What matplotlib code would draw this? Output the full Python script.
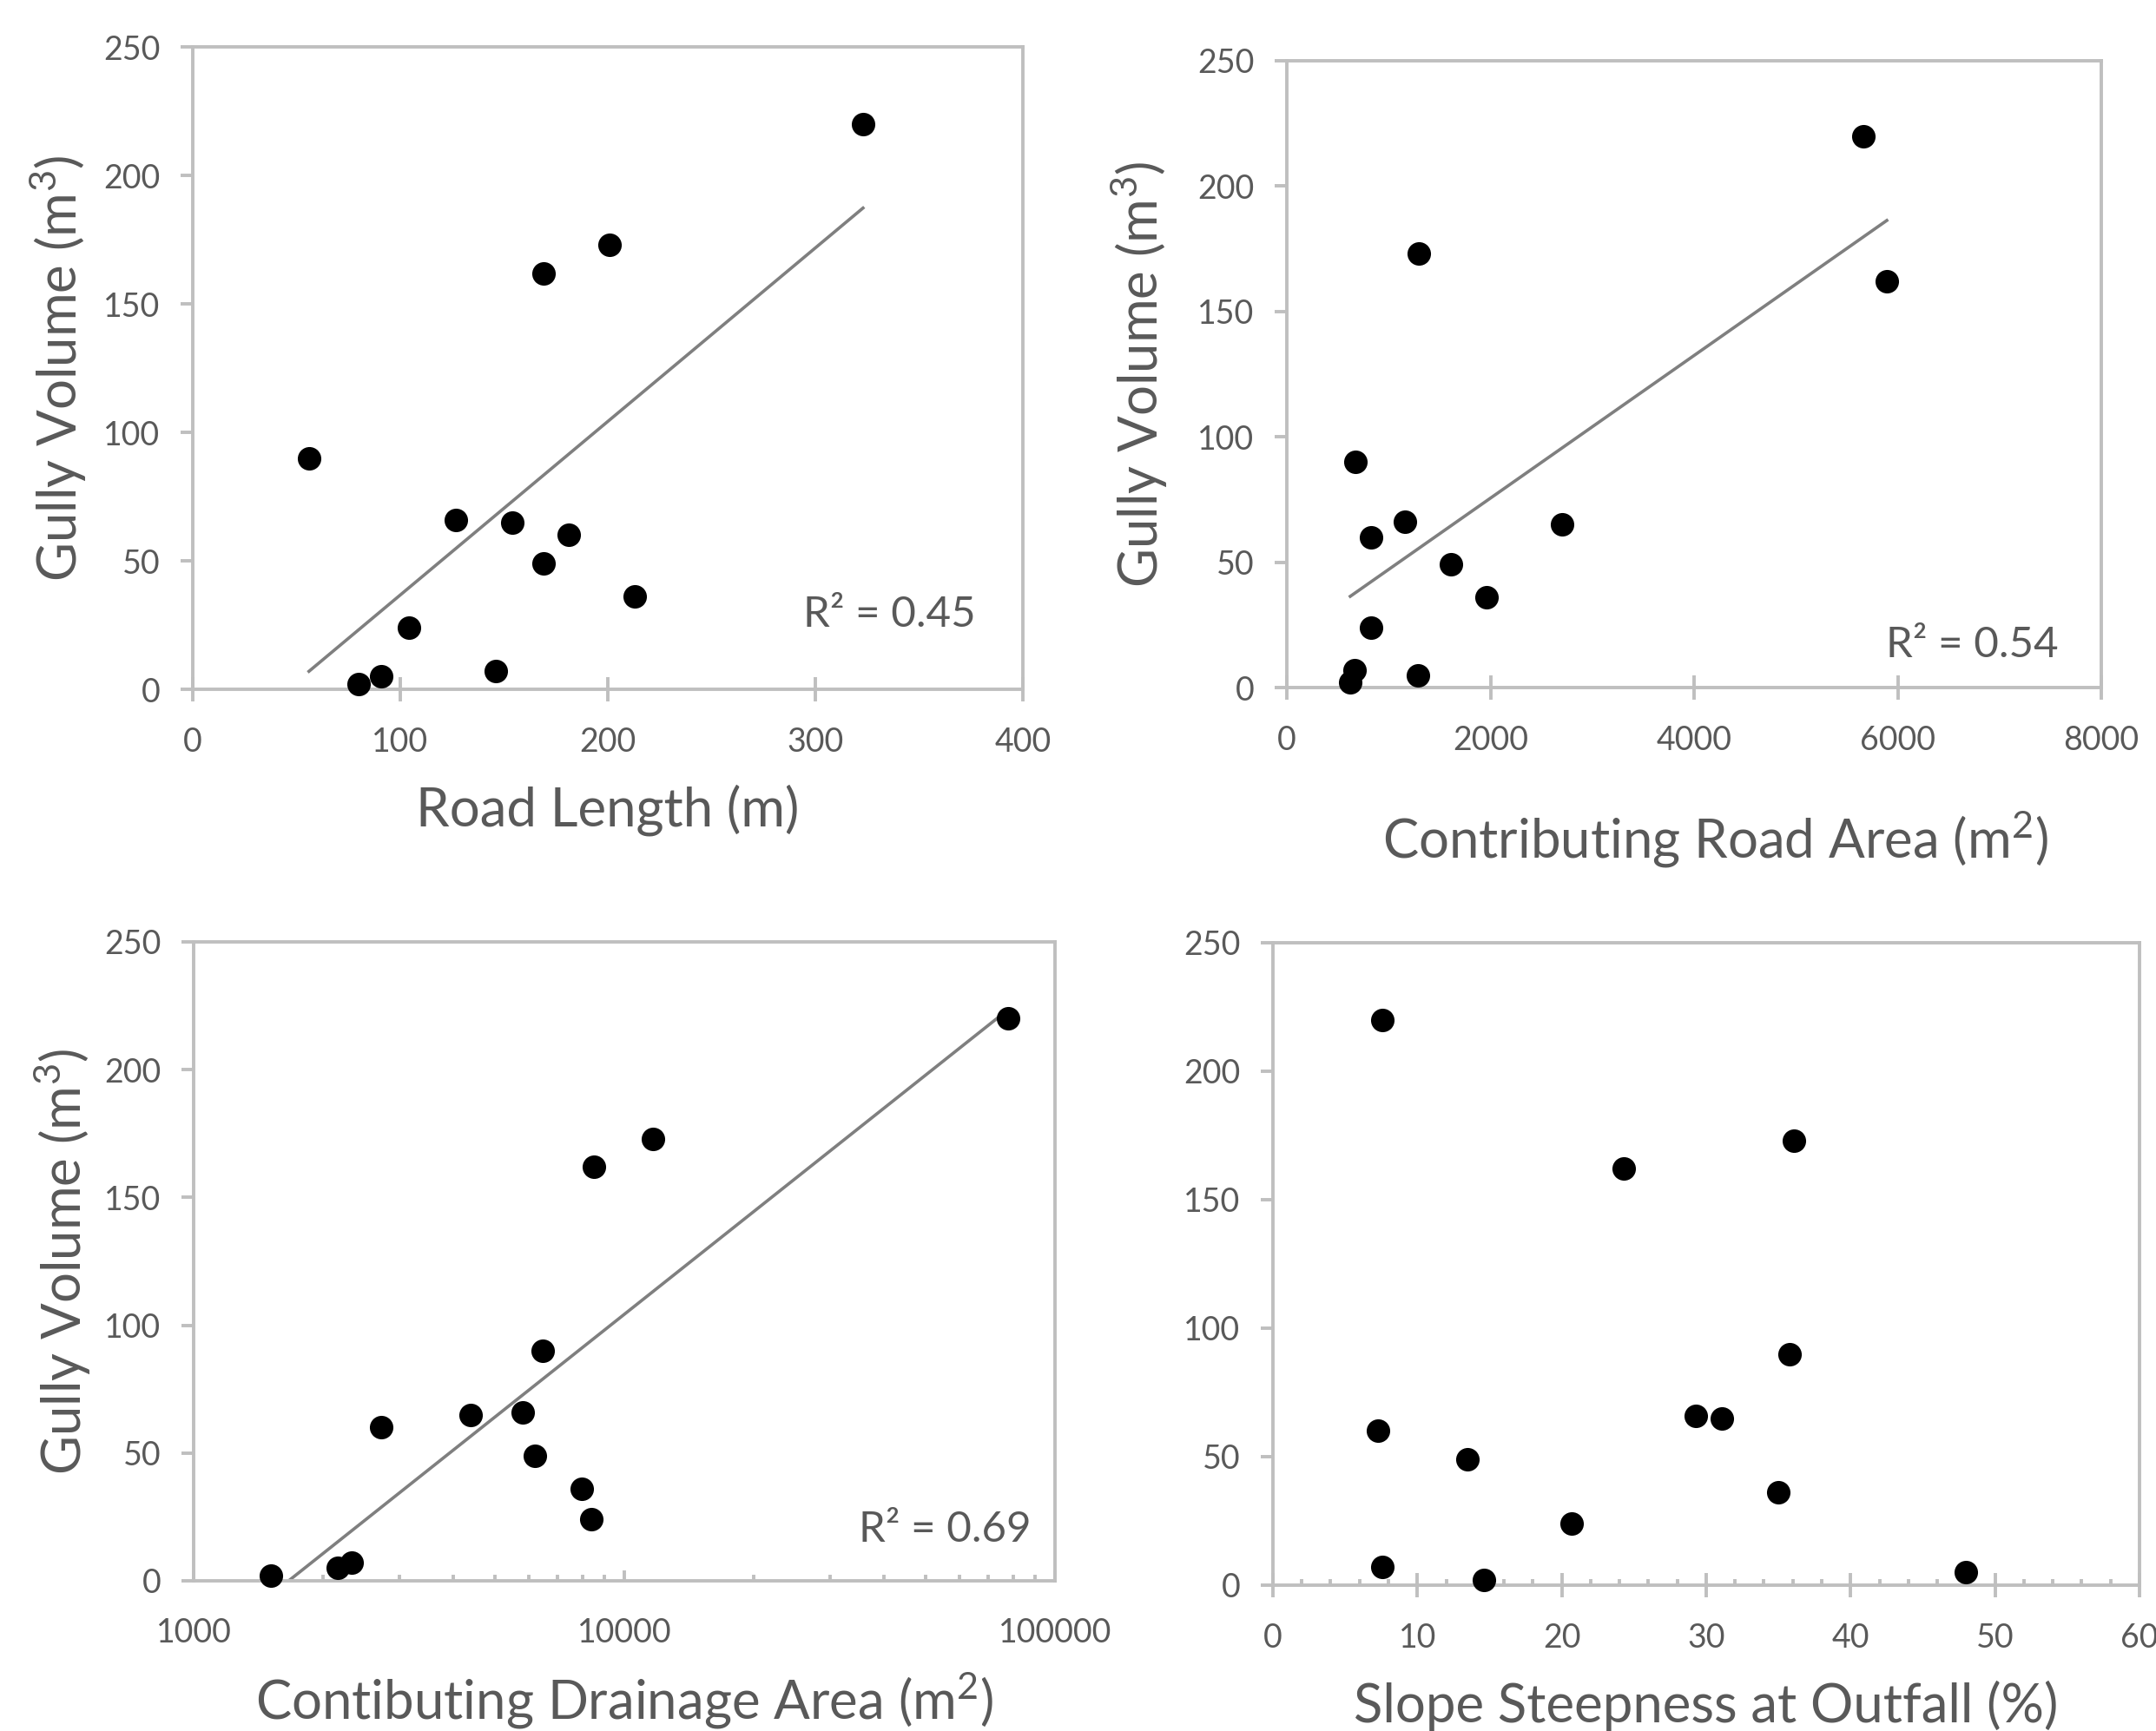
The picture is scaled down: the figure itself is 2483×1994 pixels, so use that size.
import numpy as np
import matplotlib
matplotlib.use("Agg")
import matplotlib.pyplot as plt
from matplotlib.ticker import MultipleLocator, FixedLocator, NullFormatter, LogLocator

# ---- data ----
gully_volume = [220, 173, 162, 90, 66, 65, 60, 49, 36, 24, 7, 5, 2]
road_length = [323, 201, 169, 56, 127, 154, 181, 169, 213, 104, 146, 90.6, 80]
road_area = [5660, 1297, 5892, 676, 1162, 2703, 824, 1608, 1959, 824, 662, 1284, 622]
drainage_area = [77850, 11670, 8510, 6480, 5800, 4390, 2720, 6200, 7960, 8380, 2330, 2165, 1510]
slope_steep = [7.6, 36.1, 24.3, 35.8, 29.3, 31.1, 7.3, 13.5, 35.0, 20.7, 7.6, 48.0, 14.6]

r2_labels = ["R\u00b2 = 0.45", "R\u00b2 = 0.54", "R\u00b2 = 0.69"]

plt.rcParams['font.family'] = ['Lato', 'DejaVu Sans']
plt.rcParams['mathtext.fontset'] = 'custom'
plt.rcParams['mathtext.rm'] = 'Lato'

TXT = '#595959'
AX = '#BFBFBF'
TREND = '#7F7F7F'
LW = 2.8
TICK_FS = 27
LAB_FS = 44.5
R2_FS = 35.5
MS = 380
TLW = 2.6

fig = plt.figure(figsize=(24.83, 19.94), dpi=100)

ylab = 'Gully Volume (m$^{\\mathregular{3}}$)'


def style(ax, xdir='inout', xlen=19.5, xpad=21):
    for s in ax.spines.values():
        s.set_color(AX)
        s.set_linewidth(LW)
    ax.tick_params(axis='y', direction='out', length=10, width=LW, color=AX,
                   labelsize=TICK_FS, labelcolor=TXT, pad=17)
    ax.tick_params(axis='x', which='major', direction=xdir, length=xlen, width=LW,
                   color=AX, labelsize=TICK_FS, labelcolor=TXT, pad=xpad)
    ax.set_ylim(0, 250)
    ax.yaxis.set_major_locator(MultipleLocator(50))
    ax.set_facecolor('white')


def scatter(ax, x, y):
    ax.scatter(x, y, s=MS, color='black', zorder=3, clip_on=False, linewidths=0)


# Panel 1
ax1 = fig.add_axes([0.0894, 0.6018, 0.385, 0.3711])
style(ax1)
ax1.set_xlim(0, 400)
ax1.xaxis.set_major_locator(MultipleLocator(100))
scatter(ax1, road_length, gully_volume)
m, b = np.polyfit(road_length, gully_volume, 1)
xs = np.array([min(road_length), max(road_length)])
ax1.plot(xs, m * xs + b, color=TREND, lw=TLW, zorder=2)
ax1.text(0.839, 0.116, r2_labels[0], transform=ax1.transAxes, ha='center', va='center',
         fontsize=R2_FS, color=TXT)
ax1.text(0.5, -0.188, 'Road Length (m)', transform=ax1.transAxes, ha='center', va='center',
         fontsize=LAB_FS, color=TXT)
ax1.text(-0.163, 0.5, ylab, transform=ax1.transAxes, ha='center', va='center',
         rotation=90, fontsize=LAB_FS, color=TXT)

# Panel 2
ax2 = fig.add_axes([0.5969, 0.6028, 0.3778, 0.3621])
style(ax2)
ax2.set_xlim(0, 8000)
ax2.xaxis.set_major_locator(MultipleLocator(2000))
scatter(ax2, road_area, gully_volume)
m, b = np.polyfit(road_area, gully_volume, 1)
xs = np.array([min(road_area), max(road_area)])
ax2.plot(xs, m * xs + b, color=TREND, lw=TLW, zorder=2)
ax2.text(0.841, 0.068, r2_labels[1], transform=ax2.transAxes, ha='center', va='center',
         fontsize=R2_FS, color=TXT)
ax2.text(0.5256, -0.242, 'Contributing Road Area (m$^{\\mathregular{2}}$)', transform=ax2.transAxes,
         ha='center', va='center', fontsize=LAB_FS, color=TXT)
ax2.text(-0.182, 0.5, ylab, transform=ax2.transAxes, ha='center', va='center',
         rotation=90, fontsize=LAB_FS, color=TXT)

# Panel 3
ax3 = fig.add_axes([0.0898, 0.0868, 0.3995, 0.3691])
ax3.set_xscale('log')
style(ax3, xdir='in', xlen=9, xpad=30)
ax3.set_xlim(1000, 100000)
ax3.xaxis.set_major_locator(FixedLocator([1000, 10000, 100000]))
ax3.xaxis.set_major_formatter(matplotlib.ticker.FuncFormatter(lambda v, p: f'{int(round(v))}'))
ax3.xaxis.set_minor_locator(LogLocator(base=10, subs=np.arange(2, 10)))
ax3.xaxis.set_minor_formatter(NullFormatter())
ax3.tick_params(axis='x', which='minor', direction='in', length=5, width=LW, color=AX)
scatter(ax3, drainage_area, gully_volume)
lx = np.log(drainage_area)
m, b = np.polyfit(lx, gully_volume, 1)
xs = np.array([min(drainage_area), max(drainage_area)])
ax3.plot(xs, m * np.log(xs) + b, color=TREND, lw=TLW, zorder=2)
ax3.text(0.872, 0.080, r2_labels[2], transform=ax3.transAxes, ha='center', va='center',
         fontsize=R2_FS, color=TXT)
ax3.text(0.5, -0.1875, 'Contibuting Drainage Area (m$^{\\mathregular{2}}$)', transform=ax3.transAxes,
         ha='center', va='center', fontsize=LAB_FS, color=TXT)
ax3.text(-0.153, 0.5, ylab, transform=ax3.transAxes, ha='center', va='center',
         rotation=90, fontsize=LAB_FS, color=TXT)

# Panel 4
ax4 = fig.add_axes([0.5904, 0.0843, 0.4019, 0.3711])
style(ax4)
ax4.set_xlim(0, 60)
ax4.xaxis.set_major_locator(MultipleLocator(10))
ax4.xaxis.set_minor_locator(MultipleLocator(2))
ax4.tick_params(axis='x', which='minor', direction='in', length=5, width=LW, color=AX)
scatter(ax4, slope_steep, gully_volume)
ax4.text(0.5, -0.188, 'Slope Steepness at Outfall (%)', transform=ax4.transAxes,
         ha='center', va='center', fontsize=LAB_FS, color=TXT)

fig.savefig('out.png', dpi=100, facecolor='white')
